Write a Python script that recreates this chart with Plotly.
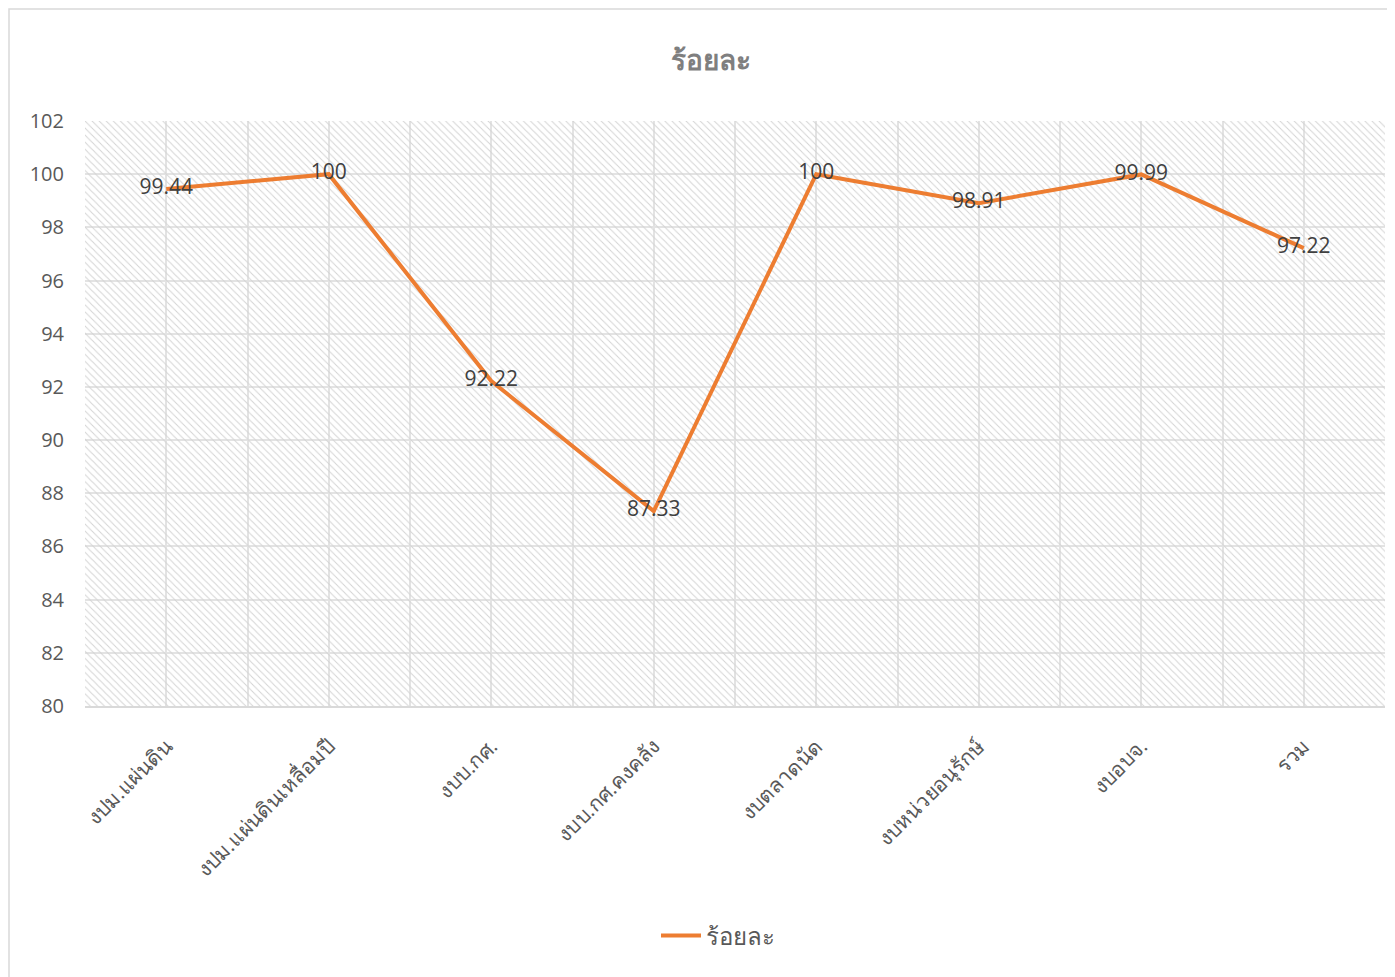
import plotly.graph_objects as go

categories = ["งปม.แผ่นดิน", "งปม.แผ่นดินเหลื่อมปี", "งบบ.กศ.", "งบบ.กศ.คงคลัง",
              "งบตลาดนัด", "งบหน่วยอนุรักษ์", "งบอบจ.", "รวม"]
values = [99.44, 100, 92.22, 87.33, 100, 98.91, 99.99, 97.22]
value_labels = ["99.44", "100", "92.22", "87.33", "100", "98.91", "99.99", "97.22"]
series_name = "ร้อยละ"
y_min, y_max, y_step = 80, 102, 2

idx = list(range(len(categories)))
FONT = "Open Sans, Noto Sans, DejaVu Sans, sans-serif"

W, H = 1395, 977
OFF = 8  # page offset of the figure inside the browser window

fig = go.Figure()
# hatched plot-area background
fig.add_trace(go.Bar(
    x=idx, y=[y_max - y_min] * len(idx), base=y_min, width=1,
    marker=dict(color="#d4d4d4", line=dict(width=0),
                pattern=dict(shape="\\", size=5, solidity=0.2, fillmode="replace")),
    hoverinfo="skip", showlegend=False))
fig.add_trace(go.Scatter(
    x=idx, y=values, mode="lines+text", name=series_name,
    line=dict(color="#ED7D31", width=4),
    text=value_labels, textposition="middle center",
    textfont=dict(size=21, color="#404040", family=FONT)))

fig.update_layout(
    width=W, height=H,
    margin=dict(l=85 - OFF, r=W - (1385 - OFF), t=121 - OFF, b=H - (706 - OFF)),
    paper_bgcolor="white", plot_bgcolor="rgba(0,0,0,0)",
    bargap=0,
    title=dict(text="<b>ร้อยละ</b>", x=(711 - OFF) / W, xanchor="center",
               y=1 - (60 - OFF) / H, yanchor="middle",
               font=dict(size=28, color="#7f7f7f", family=FONT)),
    showlegend=True,
    legend=dict(orientation="h", x=(718 - 85) / 1300, xanchor="center",
                y=-(936 - 706) / 585, yanchor="middle", itemwidth=40,
                font=dict(size=24, color="#595959", family=FONT)),
    font=dict(family=FONT),
)
fig.update_xaxes(
    range=[-0.5, len(categories) - 0.5],
    tickmode="array", tickvals=idx, ticktext=categories, tickangle=-45,
    tickfont=dict(size=21, color="#595959", family=FONT),
    showgrid=True, gridcolor="#e3e3e3", gridwidth=1.5,
    minor=dict(tick0=-0.5, dtick=1, showgrid=True, gridcolor="#e3e3e3", gridwidth=1.5),
    zeroline=False, showline=True, linecolor="#d9d9d9", linewidth=1.5,
    ticks="", ticklabelstandoff=18, fixedrange=True)
fig.update_yaxes(
    range=[y_min, y_max], dtick=y_step, tick0=y_min,
    tickfont=dict(size=20, color="#595959", family=FONT),
    showgrid=True, gridcolor="#e3e3e3", gridwidth=1.5,
    zeroline=False, showline=False, ticks="", ticklabelstandoff=20)

# outer chart border
fig.add_shape(type="rect", xref="paper", yref="paper",
              x0=(9 - 85) / 1300, x1=(1430 - 85) / 1300, y0=-(1000 - 706) / 585, y1=1 + (121 - 9) / 585,
              line=dict(color="#d9d9d9", width=1.5), fillcolor="rgba(0,0,0,0)", layer="below")

fig.write_html("out.html")
